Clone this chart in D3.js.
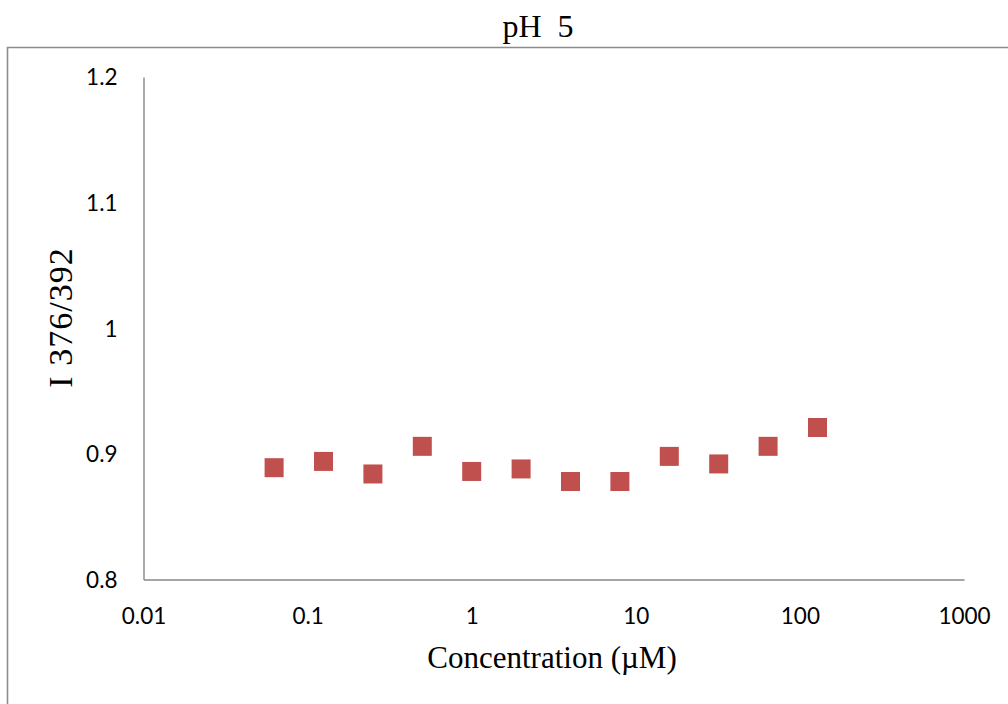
<!DOCTYPE html>
<html>
<head>
<meta charset="utf-8">
<script src="https://cdn.jsdelivr.net/npm/d3@7"></script>
<style>
  body { margin: 0; background: #fff; }
  svg { display: block; }
</style>
</head>
<body>
<svg id="canvas" width="1008" height="704"></svg>
<script>
"use strict";

// data
var concentrations = [0.0625, 0.125, 0.25, 0.5, 1, 2, 4, 8, 16, 32, 64, 128];
var ratios = [0.889, 0.894, 0.884, 0.906, 0.886, 0.888, 0.878, 0.878, 0.898, 0.892, 0.906, 0.921];
var xTicks = [0.01, 0.1, 1, 10, 100, 1000];
var yTicks = [0.8, 0.9, 1, 1.1, 1.2];
var xTickLabels = ["0.01", "0.1", "1", "10", "100", "1000"];
var yTickLabels = ["0.8", "0.9", "1", "1.1", "1.2"];

var LEFT = 143.5, RIGHT = 964, TOP = 77, BOTTOM = 579.5;
var MARKER = 19;
var AXIS_COLOR = "#878787";
var TICK_FONT = "Lato, 'Open Sans', sans-serif";
var SERIF = "'Liberation Serif', 'Times New Roman', serif";

var svg = d3.select(document.getElementById("canvas"));

var x = d3.scaleLog().domain([0.01, 1000]).range([LEFT, RIGHT]);
var y = d3.scaleLinear().domain([0.8, 1.2]).range([BOTTOM, TOP]);

// outer chart border (cut off at right and bottom)
svg.append("path")
    .attr("d", "M7.5,1000 L7.5,47.5 L1100,47.5")
    .attr("fill", "none")
    .attr("stroke", "#8c8c8c")
    .attr("stroke-width", 1.6);

// title
svg.append("text")
    .attr("x", 538)
    .attr("y", 37)
    .attr("text-anchor", "middle")
    .attr("font-family", SERIF)
    .attr("font-size", "32px")
    .attr("word-spacing", "8px")
    .attr("fill", "#000")
    .text("pH 5");

// axes
var xAxis = d3.axisBottom(x)
    .tickValues(xTicks)
    .tickSize(0)
    .tickPadding(0)
    .tickFormat(function(d, i) { return xTickLabels[i]; });
var yAxis = d3.axisLeft(y)
    .tickValues(yTicks)
    .tickSize(0)
    .tickPadding(0)
    .tickFormat(function(d, i) { return yTickLabels[i]; });

var gx = svg.append("g")
    .attr("transform", "translate(0," + BOTTOM + ")")
    .call(xAxis);
gx.select(".domain").attr("stroke", AXIS_COLOR).attr("stroke-width", 1.4);
gx.selectAll("text")
    .attr("font-family", TICK_FONT)
    .attr("font-size", "22.5px")
    .attr("fill", "#000")
    .attr("dy", null)
    .attr("y", 44);

var gy = svg.append("g")
    .attr("transform", "translate(" + LEFT + ",0)")
    .call(yAxis);
gy.select(".domain").attr("stroke", AXIS_COLOR).attr("stroke-width", 1.4);
gy.selectAll("text")
    .attr("font-family", TICK_FONT)
    .attr("font-size", "22.5px")
    .attr("fill", "#000")
    .attr("x", -26)
    .attr("dy", "0.35em");

// axis titles
svg.append("text")
    .attr("transform", "translate(72,317.5) rotate(-90)")
    .attr("text-anchor", "middle")
    .attr("font-family", SERIF)
    .attr("font-size", "34px")
    .attr("letter-spacing", "1px")
    .attr("fill", "#000")
    .text("I 376/392");

svg.append("text")
    .attr("x", 552)
    .attr("y", 668)
    .attr("text-anchor", "middle")
    .attr("font-family", SERIF)
    .attr("font-size", "31px")
    .attr("fill", "#000")
    .text("Concentration (\u00b5M)");

// markers
svg.append("g").selectAll("rect")
    .data(concentrations)
    .enter().append("rect")
    .attr("x", function(d) { return x(d) - MARKER / 2; })
    .attr("y", function(d, i) { return y(ratios[i]) - MARKER / 2; })
    .attr("width", MARKER)
    .attr("height", MARKER)
    .attr("fill", "#C0504D");
</script>
</body>
</html>
